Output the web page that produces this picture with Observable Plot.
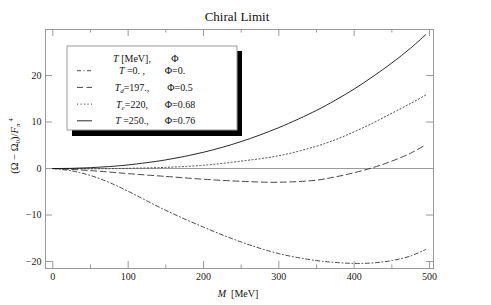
<!DOCTYPE html>
<html>
<head>
<meta charset="utf-8">
<script src="https://cdn.jsdelivr.net/npm/d3@7"></script>
<script src="https://cdn.jsdelivr.net/npm/@observablehq/plot@0.6"></script>
<style>
  html, body { margin: 0; padding: 0; background: white; }
</style>
</head>
<body>
<div id="chart"></div>
<script>
// ---- data ----
const massMeV = [0, 25, 50, 75, 100, 150, 200, 250, 300, 350, 375, 400, 425, 450, 475, 495];
const omegaT0    = [0, -0.5, -1.5, -3.0, -4.9, -9.0, -12.6, -15.8, -18.3, -19.8, -20.2, -20.4, -20.3, -19.8, -18.8, -17.4];
const omegaTd197 = [0, -0.2, -0.45, -0.75, -1.1, -1.7, -2.3, -2.75, -2.95, -2.5, -1.8, -0.9, 0.2, 1.6, 3.3, 5.1];
const omegaTc220 = [0, -0.02, -0.05, -0.03, 0.05, 0.25, 0.7, 1.6, 2.75, 4.8, 6.2, 7.9, 9.8, 11.9, 14.0, 15.8];
const omegaT250  = [0, 0.04, 0.18, 0.42, 0.78, 1.86, 3.5, 5.8, 8.8, 12.5, 14.7, 17.1, 19.8, 22.7, 25.9, 28.8];
const xMajorTicks = [0, 100, 200, 300, 400, 500];
const xMinorTicks = [50, 150, 250, 350, 450];
const yMajorTicks = [-20, -10, 0, 10, 20];

const seriesList = [
  {key: "T0",  values: omegaT0,    dash: "4,2.5,1,2.5"},
  {key: "Td",  values: omegaTd197, dash: "6,3.5"},
  {key: "Tc",  values: omegaTc220, dash: "1.2,2.3"},
  {key: "T250",values: omegaT250,  dash: null}
];

const W = 491, H = 305;
const mL = 45, mR = 58, mT = 29, mB = 37;
const plotW = W - mL - mR, plotH = H - mT - mB;
const grey = "#999";

const lineMarks = seriesList.map(s => {
  const rows = massMeV.map((m, i) => ({M: m, v: s.values[i]}));
  return Plot.line(rows, {
    x: "M", y: "v", curve: "catmull-rom",
    stroke: s.dash ? "#333" : "#111", strokeWidth: 0.9,
    strokeDasharray: s.dash || undefined
  });
});

const chart = Plot.plot({
  width: W, height: H,
  marginLeft: mL, marginRight: mR, marginTop: mT, marginBottom: mB,
  style: {fontFamily: "'Liberation Serif', 'DejaVu Serif', serif", fontSize: "10px", background: "white", color: "#222"},
  x: {domain: [-9.7, 505.3], ticks: xMajorTicks, tickSize: 0, tickPadding: 4, label: null},
  y: {domain: [-21.5, 29.9], ticks: yMajorTicks, tickSize: 0, tickPadding: 4, label: null},
  marks: [
    Plot.ruleY([0], {stroke: grey, strokeWidth: 1}),
    // inward ticks
    Plot.ruleX(xMajorTicks, {stroke: grey, insetTop: plotH - 7}),
    Plot.ruleX(xMinorTicks, {stroke: grey, insetTop: plotH - 3.5}),
    Plot.ruleX(xMajorTicks, {stroke: grey, insetBottom: plotH - 7}),
    Plot.ruleX(xMinorTicks, {stroke: grey, insetBottom: plotH - 3.5}),
    Plot.ruleY(yMajorTicks, {stroke: grey, insetRight: plotW - 7}),
    Plot.ruleY(yMajorTicks, {stroke: grey, insetLeft: plotW - 7}),
    ...lineMarks,
    Plot.frame({stroke: grey, strokeWidth: 1})
  ]
});

document.getElementById("chart").appendChild(chart);

// ---- annotations: title, axis labels, legend ----
const svg = d3.select(chart);
const serif = "'Liberation Serif', 'DejaVu Serif', serif";

svg.append("text").attr("x", 237).attr("y", 21).attr("text-anchor", "middle")
  .attr("font-family", serif).attr("font-size", 13).attr("fill", "#111").text("Chiral Limit");

const xl = svg.append("text").attr("x", 238).attr("y", 297).attr("text-anchor", "middle")
  .attr("font-family", serif).attr("font-size", 10).attr("fill", "#111");
xl.append("tspan").attr("font-style", "italic").text("M");
xl.append("tspan").attr("xml:space", "preserve").text("  [MeV]");

const yl = svg.append("text").attr("transform", "translate(18,146) rotate(-90)")
  .attr("text-anchor", "middle").attr("font-family", serif).attr("font-size", 10.5).attr("fill", "#111");
yl.append("tspan").text("(Ω − Ω");
yl.append("tspan").attr("font-size", 7).attr("dy", 2).text("0");
yl.append("tspan").attr("dy", -2).text(")/");
yl.append("tspan").attr("font-style", "italic").text("F");
yl.append("tspan").attr("font-style", "italic").attr("font-size", 7).attr("dy", 2).text("π");
yl.append("tspan").attr("font-size", 7).attr("dy", -7).text(" 4");

// legend
const lg = svg.append("g");
lg.append("rect").attr("x", 72).attr("y", 51).attr("width", 170).attr("height", 85).attr("fill", "black");
lg.append("rect").attr("x", 67).attr("y", 46).attr("width", 170).attr("height", 84)
  .attr("fill", "white").attr("stroke", grey).attr("stroke-width", 1);

const hdr = lg.append("text").attr("x", 132).attr("y", 62).attr("font-family", serif).attr("font-size", 10).attr("fill", "#111");
hdr.append("tspan").attr("font-style", "italic").text("T");
hdr.append("tspan").attr("xml:space", "preserve").text(" [MeV],");
lg.append("text").attr("x", 175).attr("y", 62).attr("font-family", serif).attr("font-size", 10).attr("fill", "#111").text("Φ");

const rowY = [70.7, 87.4, 104.1, 120.8];
const rowDefs = [
  {sub: null, val: " =0. ,", phi: "Φ=0.", phiX: 175},
  {sub: "d",  val: "=197.,", phi: "Φ=0.5", phiX: 180},
  {sub: "c",  val: "=220,", phi: "Φ=0.68", phiX: 180},
  {sub: null, val: " =250.,", phi: "Φ=0.76", phiX: 180}
];
rowDefs.forEach((r, i) => {
  const y = rowY[i];
  const s = seriesList[i];
  const ln = lg.append("line").attr("x1", 77).attr("x2", 92).attr("y1", y).attr("y2", y)
    .attr("stroke", s.dash ? "#333" : "#111").attr("stroke-width", 0.9);
  if (s.dash) ln.attr("stroke-dasharray", s.dash);
  const t = lg.append("text").attr("x", 132).attr("y", y + 3.5).attr("font-family", serif)
    .attr("font-size", 10).attr("fill", "#111").attr("xml:space", "preserve");
  t.append("tspan").attr("font-style", "italic").text("T");
  if (r.sub) {
    t.append("tspan").attr("font-style", "italic").attr("font-size", 7).attr("dy", 2).text(r.sub);
    t.append("tspan").attr("dy", -2).text(r.val);
  } else {
    t.append("tspan").text(r.val);
  }
  lg.append("text").attr("x", r.phiX).attr("y", y + 3.5).attr("font-family", serif)
    .attr("font-size", 10).attr("fill", "#111").text(r.phi);
});
</script>
</body>
</html>
